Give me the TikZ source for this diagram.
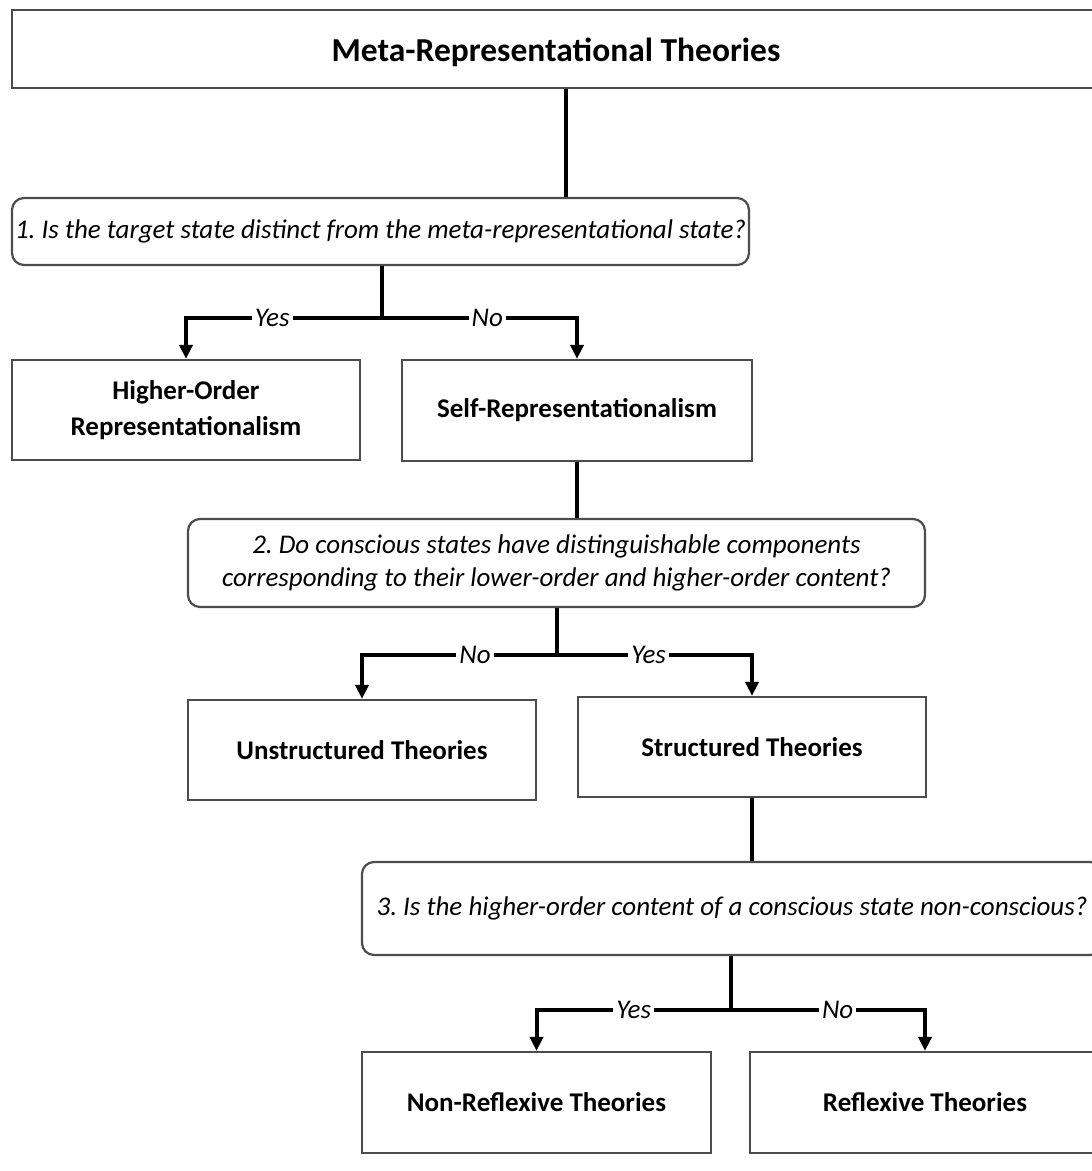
\documentclass[tikz,border=0pt]{standalone}
\usepackage{fontspec}
\setmainfont{Carlito}
\usetikzlibrary{arrows.meta}
\frenchspacing
\begin{document}
\begin{tikzpicture}[x=1pt,y=-1pt,
  boxstyle/.style={draw=black!70, line width=2.2pt, fill=white, align=center, inner sep=0pt, font=\fontsize{27}{36}\selectfont\bfseries},
  qstyle/.style={boxstyle, rounded corners=12pt, font=\fontsize{27}{33}\selectfont\itshape},
  conn/.style={line width=4pt, black},
  arr/.style={conn, -{Triangle[length=14pt,width=13pt]}},
  lab/.style={fill=white, inner sep=3pt, font=\fontsize{27}{30}\selectfont\itshape}
]
\useasboundingbox (0,0) rectangle (1092,1171);
\fill[white] (0,0) rectangle (1092,1171);

% boxes
\node[boxstyle, minimum width=1088pt, minimum height=78pt, text height=31pt, text depth=7pt, font=\fontsize{33.5}{40}\selectfont\bfseries] (top) at (556,49) {Meta-Representational Theories};
\node[qstyle, minimum width=737pt, minimum height=67pt] (q1) at (380.5,231.5) {1. Is the target state distinct from the meta-representational state?};
\node[boxstyle, minimum width=348pt, minimum height=100pt] (hor) at (186,410) {Higher-Order\\Representationalism};
\node[boxstyle, minimum width=350pt, minimum height=101pt] (self) at (577,410.5) {Self-Representationalism};
\node[qstyle, minimum width=737pt, minimum height=88pt] (q2) at (556.5,563) {2. Do conscious states have distinguishable components\\corresponding to their lower-order and higher-order content?};
\node[boxstyle, minimum width=348pt, minimum height=100pt] (uns) at (362,750) {Unstructured Theories};
\node[boxstyle, minimum width=348pt, minimum height=100pt] (str) at (752,747) {Structured Theories};
\node[qstyle, minimum width=740pt, minimum height=93pt] (q3) at (732,908.5) {3. Is the higher-order content of a conscious state non-conscious?};
\node[boxstyle, minimum width=349pt, minimum height=101pt] (nrf) at (536.5,1102.5) {Non-Reflexive Theories};
\node[boxstyle, minimum width=350pt, minimum height=101pt] (rfl) at (925,1102.5) {Reflexive Theories};

% hub coordinates
\coordinate (h0) at (566,150);
\coordinate (b1) at (382,318);
\coordinate (b2) at (557,655);
\coordinate (b3) at (731,1010);

% connectors
\draw[conn] (top.south -| h0) -- (q1.north -| h0);
\draw[conn] (q1.south -| b1) -- (b1);
\draw[arr] (b1) -- node[lab, pos=0.56]{Yes} (b1 -| hor) -- (hor.north);
\draw[arr] (b1) -- node[lab, pos=0.54]{No} (b1 -| self) -- (self.north);

\draw[conn] (self.south) -- (q2.north -| self);
\draw[conn] (q2.south -| b2) -- (b2);
\draw[arr] (b2) -- node[lab, pos=0.42]{No} (b2 -| uns) -- (uns.north);
\draw[arr] (b2) -- node[lab, pos=0.47]{Yes} (b2 -| str) -- (str.north);

\draw[conn] (str.south) -- (q3.north -| str);
\draw[conn] (q3.south -| b3) -- (b3);
\draw[arr] (b3) -- node[lab, pos=0.5]{Yes} (b3 -| nrf) -- (nrf.north);
\draw[arr] (b3) -- node[lab, pos=0.55]{No} (b3 -| rfl) -- (rfl.north);
\end{tikzpicture}
\end{document}
